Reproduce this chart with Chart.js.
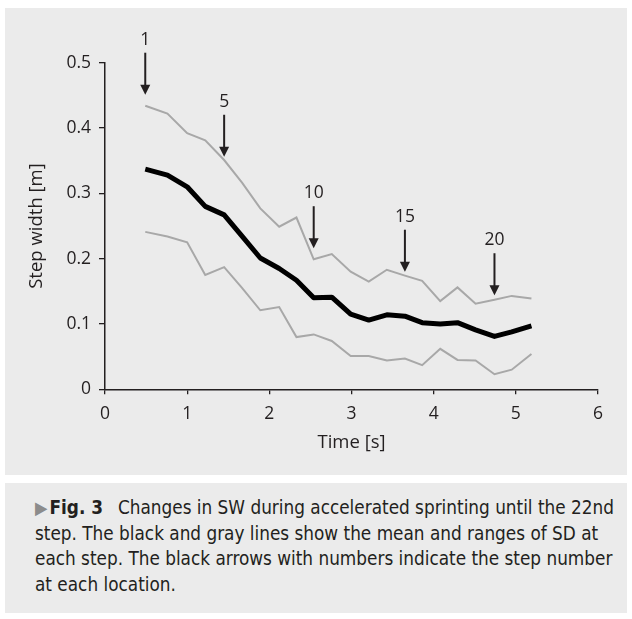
<!DOCTYPE html>
<html>
<head>
<meta charset="utf-8">
<script src="https://cdn.jsdelivr.net/npm/chart.js@4.4.1/dist/chart.umd.min.js"></script>
<style>
  body { margin: 0; background: #fff; width: 632px; height: 619px; position: relative; overflow: hidden; }
  #panel { position: absolute; left: 5px; top: 8px; width: 622px; height: 467px; background: #ebebeb; }
  #caption {
    position: absolute; left: 5px; top: 483px; width: 592px; height: 118px;
    padding: 12px 0 0 30px; background: #ebebeb; color: #231f20;
    font-family: "DejaVu Sans Condensed", "Liberation Sans Narrow", sans-serif;
    font-stretch: condensed; font-size: 18.8px; line-height: 25.7px; white-space: nowrap;
  }
  #caption .mark { color: #8c8c8c; font-size: 18px; line-height: 10px; margin-right: 2px; }
  #caption b { margin-right: 15px; }
</style>
</head>
<body>
<div id="panel"><canvas id="myChart" width="622" height="467"></canvas></div>
<div id="caption">
  <span class="mark">&#9654;</span><b>Fig. 3</b>Changes in SW during accelerated sprinting until the 22nd<br>
  step. The black and gray lines show the mean and ranges of SD at<br>
  each step. The black arrows with numbers indicate the step number<br>
  at each location.
</div>
<script>
// step times [s] and step width [m]
const times = [0.49, 0.76, 1.00, 1.22, 1.45, 1.67, 1.89, 2.12, 2.33, 2.54, 2.76,
               2.99, 3.21, 3.43, 3.65, 3.86, 4.08, 4.29, 4.51, 4.74, 4.95, 5.19];
const meanSW = [0.337, 0.328, 0.310, 0.280, 0.267, 0.234, 0.201, 0.185, 0.167, 0.140, 0.141,
                0.115, 0.106, 0.114, 0.112, 0.102, 0.100, 0.102, 0.091, 0.081, 0.088, 0.097];
const upperSW = [0.434, 0.422, 0.392, 0.381, 0.351, 0.316, 0.277, 0.249, 0.263, 0.199, 0.207,
                 0.180, 0.165, 0.183, 0.174, 0.166, 0.135, 0.156, 0.131, 0.137, 0.143, 0.139];
const lowerSW = [0.241, 0.234, 0.225, 0.175, 0.187, 0.155, 0.121, 0.126, 0.080, 0.084, 0.074,
                 0.051, 0.051, 0.044, 0.047, 0.037, 0.062, 0.045, 0.044, 0.023, 0.030, 0.054];

// arrows: step number and the value where the arrow tip sits
const arrowSteps = [1, 5, 10, 15, 20];
const arrowTip = [0.451, 0.356, 0.216, 0.180, 0.144];

const ink = "#231f20";
const toPoints = (vals) => vals.map((v, i) => ({ x: times[i], y: v }));

// draw the step arrows with their numbers
const arrowPlugin = {
  id: "stepArrows",
  afterDatasetsDraw(chart) {
    const { ctx, scales: { x, y } } = chart;
    ctx.save();
    ctx.fillStyle = ink;
    ctx.strokeStyle = ink;
    ctx.lineWidth = 2;
    ctx.font = "17.5px 'Open Sans'";
    ctx.textAlign = "center";
    ctx.textBaseline = "middle";
    arrowSteps.forEach((step, i) => {
      const px = x.getPixelForValue(times[step - 1]);
      const tip = y.getPixelForValue(arrowTip[i]);
      const top = tip - 42;
      ctx.beginPath();
      ctx.moveTo(px, top);
      ctx.lineTo(px, tip - 8);
      ctx.stroke();
      ctx.beginPath();
      ctx.moveTo(px - 5, tip - 10);
      ctx.lineTo(px + 5, tip - 10);
      ctx.lineTo(px, tip);
      ctx.closePath();
      ctx.fill();
      ctx.fillText(String(step), px, top - 13);
    });
    ctx.restore();
  }
};

const ctx = document.getElementById("myChart").getContext("2d");
const myChart = new Chart(ctx, {
  type: "line",
  data: {
    datasets: [
      {
        label: "Mean",
        data: toPoints(meanSW),
        borderColor: "#000",
        borderWidth: 5,
        borderJoinStyle: "round",
      },
      {
        label: "Upper",
        data: toPoints(upperSW),
        borderColor: "#a8a8a8",
        borderWidth: 2,
      },
      {
        label: "Lower",
        data: toPoints(lowerSW),
        borderColor: "#a8a8a8",
        borderWidth: 2,
      },
    ],
  },
  options: {
    responsive: false,
    animation: false,
    layout: { padding: { top: 54.7, right: 29, left: 0, bottom: 0 } },
    elements: { point: { radius: 0 }, line: { tension: 0, fill: false } },
    plugins: { legend: { display: false }, tooltip: { enabled: false } },
    scales: {
      x: {
        type: "linear",
        min: 0,
        max: 6,
        ticks: { stepSize: 1, color: ink, padding: 9, font: { family: "Open Sans", size: 17.5 } },
        grid: { drawOnChartArea: false, tickLength: 5, color: ink, lineWidth: 1.3 },
        border: { color: ink, width: 1.5 },
        title: {
          display: true,
          text: "Time [s]",
          color: ink,
          font: { family: "Open Sans", size: 18.5 },
          padding: { top: 0, bottom: 21 },
        },
        afterFit: (s) => { s.height = 85.7; },
      },
      y: {
        min: 0,
        max: 0.5,
        ticks: { stepSize: 0.1, color: ink, padding: 8, font: { family: "Open Sans", size: 17.5 } },
        grid: { drawOnChartArea: false, tickLength: 6, color: ink, lineWidth: 1.3 },
        border: { color: ink, width: 1.5 },
        title: {
          display: true,
          text: "Step width [m]",
          color: ink,
          font: { family: "Open Sans", size: 18.5 },
          padding: { top: 21, bottom: 0 },
        },
        afterFit: (s) => { s.width = 100; },
      },
    },
  },
  plugins: [arrowPlugin],
});
</script>
</body>
</html>
